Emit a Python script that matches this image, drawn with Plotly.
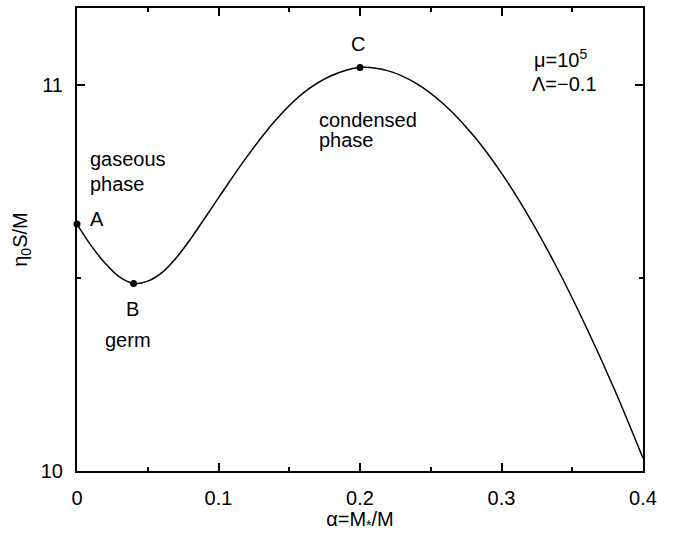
import plotly.graph_objects as go

# Curve data
alpha = [0.0, 0.01, 0.02, 0.03, 0.04, 0.05, 0.06, 0.07, 0.08, 0.10, 0.12, 0.14, 0.16,
         0.18, 0.20, 0.22, 0.24, 0.26, 0.28, 0.30, 0.32, 0.34, 0.36, 0.38, 0.40]
entropy = [10.640, 10.584, 10.538, 10.503, 10.486, 10.492, 10.514, 10.552, 10.600,
           10.708, 10.814, 10.908, 10.980, 11.025, 11.046, 11.037, 11.004, 10.948,
           10.870, 10.772, 10.655, 10.521, 10.372, 10.210, 10.033]

# Special points A, B, C
pt_x = [0.0, 0.04, 0.20]
pt_y = [10.640, 10.486, 11.046]

x_ticks = [0, 0.1, 0.2, 0.3, 0.4]
x_ticklabels = ["0", "0.1", "0.2", "0.3", "0.4"]
y_ticks = [10, 11]
y_ticklabels = ["10", "11"]

FONT = "Liberation Sans, Arial, Helvetica, sans-serif"
FS = 20

fig = go.Figure()
fig.add_trace(go.Scatter(x=alpha, y=entropy, mode="lines", line_shape="spline",
                         line=dict(color="black", width=1.5, smoothing=1.0),
                         showlegend=False, hoverinfo="skip"))
fig.add_trace(go.Scatter(x=pt_x, y=pt_y, mode="markers",
                         marker=dict(color="black", size=7), showlegend=False,
                         cliponaxis=False))

def ann(text, x, y, xanchor="center"):
    fig.add_annotation(text=text, x=x, y=y, xref="x", yref="y", showarrow=False,
                       xanchor=xanchor, yanchor="middle",
                       font=dict(family=FONT, size=FS, color="black"))

ann("gaseous", 0.0078, 10.808, xanchor="left")
ann("phase", 0.0078, 10.745, xanchor="left")
ann("A", 0.0141, 10.653)
ann("B", 0.0389, 10.420)
ann("germ", 0.036, 10.340)
ann("C", 0.1986, 11.106)
ann("condensed", 0.1696, 10.909, xanchor="left")
ann("phase", 0.1696, 10.858, xanchor="left")
ann("μ=10<sup>5</sup>", 0.3215, 11.069, xanchor="left")
ann("Λ=−0.1", 0.3201, 11.003, xanchor="left")

axis_common = dict(showgrid=False, zeroline=False, showline=True, linecolor="black",
                   linewidth=2, mirror="ticks", ticks="inside", ticklen=8,
                   tickwidth=1.5, tickcolor="black", ticklabelstandoff=8,
                   tickfont=dict(family=FONT, size=FS, color="black"))

fig.update_xaxes(range=[0, 0.4], tickvals=x_ticks, ticktext=x_ticklabels,
                 minor=dict(ticks="inside", ticklen=4, dtick=0.05, tick0=0,
                            tickcolor="black", tickwidth=1.5),
                 title=dict(text="α=M<sub>*</sub>/M", standoff=4,
                            font=dict(family=FONT, size=FS, color="black")),
                 **axis_common)
fig.update_yaxes(range=[10, 11.2], tickvals=y_ticks, ticktext=y_ticklabels,
                 minor=dict(ticks="inside", ticklen=4, dtick=0.5, tick0=10,
                            tickcolor="black", tickwidth=1.5),
                 title=dict(text="η<sub>0</sub>S/M", standoff=8,
                            font=dict(family=FONT, size=FS, color="black")),
                 **axis_common)

fig.update_layout(width=681, height=533, margin=dict(l=77, r=38, t=6, b=58),
                  plot_bgcolor="white", paper_bgcolor="white",
                  font=dict(family=FONT, size=FS, color="black"))

fig.write_html("out.html")
